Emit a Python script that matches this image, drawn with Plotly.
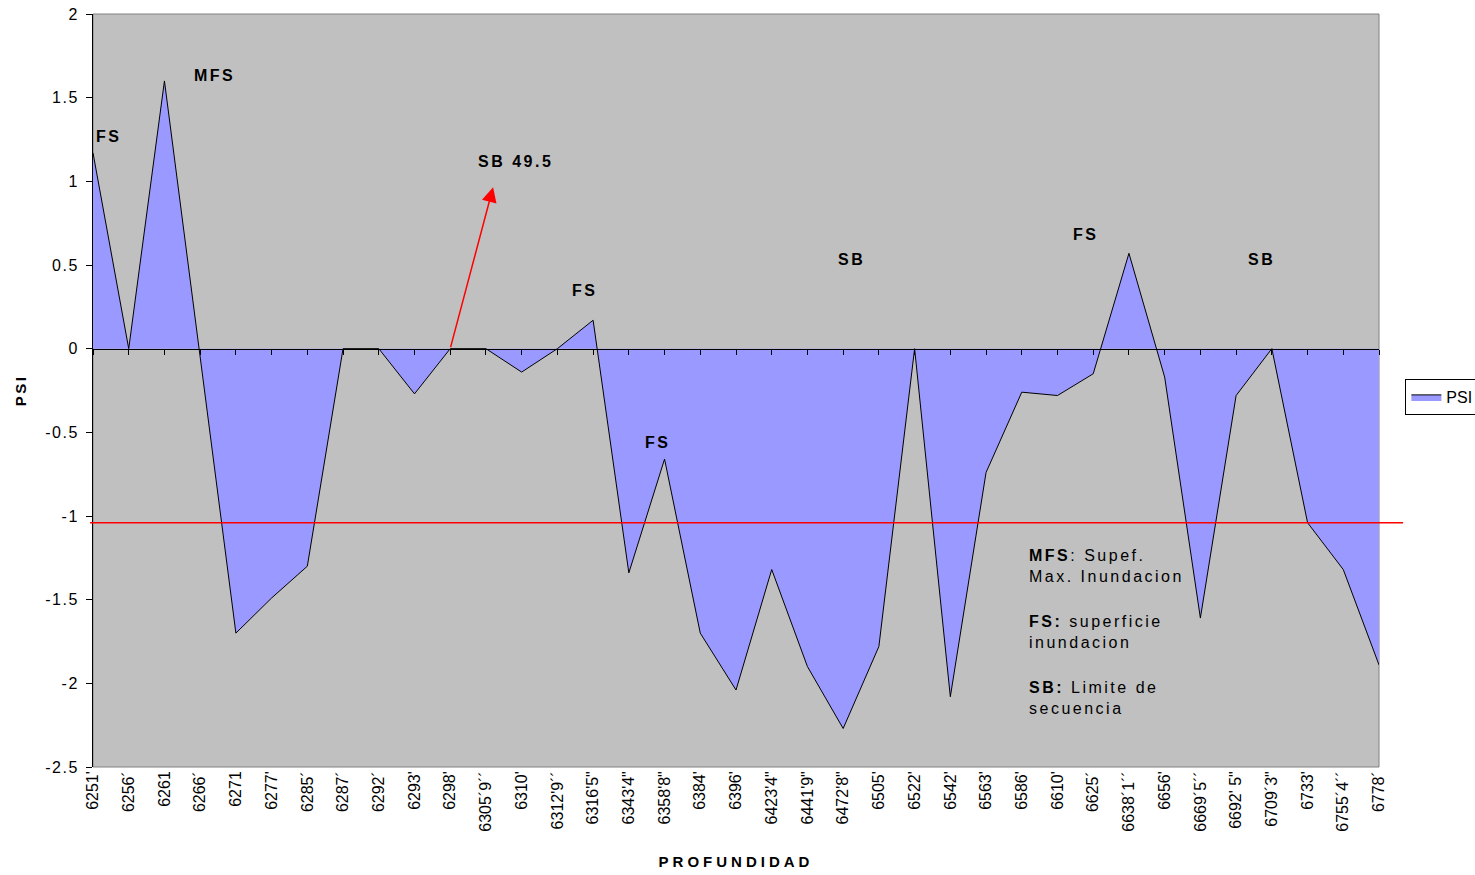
import plotly.graph_objects as go

CATEGORIES = ["6251'", "6256´", "6261", "6266´", "6271", "6277'", "6285´", "6287´",
              "6292´", "6293'", "6298'", "6305´9´´", "6310'", "6312'9´´", "6316'5\"",
              "6343'4\"", "6358'8\"", "6384'", "6396'", "6423'4\"", "6441'9\"",
              "6472'8\"", "6505'", "6522'", "6542'", "6563'", "6586'", "6610'", "6625´",
              "6638´1´´", "6656'", "6669´5´´", "6692' 5\"", "6709´3\"", "6733'",
              "6755´4´´", "6778´"]
PSI = [1.17, 0.0, 1.60, -0.05, -1.70, -1.49, -1.30, 0.0,
       0.0, -0.27, 0.0, 0.0, -0.14, 0.0, 0.17,
       -1.34, -0.66, -1.70, -2.04, -1.32, -1.90,
       -2.27, -1.78, 0.0, -2.08, -0.74, -0.26, -0.28, -0.15,
       0.57, -0.17, -1.61, -0.28, 0.0, -1.04,
       -1.32, -1.89]
Y_TICKS = [2, 1.5, 1, 0.5, 0, -0.5, -1, -1.5, -2, -2.5]
Y_TICK_LABELS = ["2", "1.5", "1", "0.5", "0", "-0.5", "-1", "-1.5", "-2", "-2.5"]
Y_RANGE = [-2.5, 2]
RED_LINE = -1.04

FONT = "Arial, Liberation Sans, sans-serif"
SP = '<span style="letter-spacing:2.5px">{}</span>'
SPT = '<span style="letter-spacing:4px">{}</span>'
SPY = '<span style="letter-spacing:1.5px">{}</span>'

x_idx = list(range(len(CATEGORIES)))

fig = go.Figure()
fig.add_trace(go.Scatter(
    x=x_idx, y=PSI, name="PSI", mode="lines", xaxis="x2", yaxis="y",
    line=dict(color="black", width=1),
    fill="tozeroy", fillcolor="#9999FF",
))

zero_pos = (0 - Y_RANGE[0]) / (Y_RANGE[1] - Y_RANGE[0])

fig.update_layout(
    width=1475, height=875,
    paper_bgcolor="white", plot_bgcolor="#C0C0C0",
    margin=dict(l=93, r=96, t=14, b=108, autoexpand=False),
    font=dict(family=FONT, color="black", size=16),
    showlegend=True,
    legend=dict(x=1.0205, y=0.4914, xanchor="left", yanchor="middle",
                bgcolor="white", bordercolor="black", borderwidth=1,
                font=dict(size=16), itemwidth=30),
    xaxis=dict(range=[0, len(CATEGORIES) - 1], tickmode="array", tickvals=x_idx,
               ticktext=CATEGORIES, tickangle=-90, ticks="", showgrid=False,
               zeroline=False, showline=False, tickfont=dict(size=16),
               title=dict(text="<b>" + SPT.format("PROFUNDIDAD") + "</b>",
                          font=dict(size=15), standoff=25)),
    xaxis2=dict(range=[0, len(CATEGORIES) - 1], overlaying="x", anchor="free",
                position=zero_pos, side="bottom", tickmode="array", tickvals=x_idx,
                showticklabels=False, ticks="outside", ticklen=5, tickcolor="black",
                showline=True, linecolor="black", linewidth=1, showgrid=False,
                zeroline=False, layer="above traces"),
    yaxis=dict(range=Y_RANGE, tickmode="array", tickvals=Y_TICKS,
               ticktext=[SPY.format(t) for t in Y_TICK_LABELS],
               ticks="outside", ticklen=6, tickcolor="black",
               showline=True, linecolor="black", linewidth=1, showgrid=False,
               zeroline=False, tickfont=dict(size=16), ticklabelstandoff=4,
               title=dict(text="<b>" + SP.format("PSI") + "</b>", font=dict(size=15),
                          standoff=14)),
)

fig.add_shape(type="rect", xref="paper", yref="paper", x0=0, x1=1, y0=0, y1=1,
              line=dict(color="#808080", width=1), layer="below")

red_y = (RED_LINE - Y_RANGE[0]) / (Y_RANGE[1] - Y_RANGE[0])
fig.add_shape(type="line", xref="paper", yref="paper", x0=-0.0023, x1=1.0187,
              y0=red_y, y1=red_y, line=dict(color="red", width=1.5))

fig.add_annotation(x=11.2, y=0.965, ax=10, ay=0, axref="x", ayref="y", xref="x", yref="y",
                   text="", showarrow=True, arrowcolor="red", arrowwidth=1.5,
                   arrowhead=2, arrowsize=2, standoff=0)

labels = [
    ("FS", 0.42, 1.265), ("MFS", 3.39, 1.63), ("SB 49.5", 11.84, 1.12),
    ("FS", 13.77, 0.345), ("FS", 15.79, -0.56), ("SB", 21.22, 0.535),
    ("FS", 27.77, 0.68), ("SB", 32.7, 0.535),
]
for t, x, y in labels:
    fig.add_annotation(x=x, y=y, xref="x", yref="y", text="<b>" + SP.format(t) + "</b>",
                       showarrow=False, font=dict(size=16))

notes = [
    ("<b>MFS</b>: Supef.<br>Max. Inundacion", -1.296),
    ("<b>FS:</b> superficie<br>inundacion", -1.696),
    ("<b>SB:</b> Limite de<br>secuencia", -2.085),
]
for t, y in notes:
    fig.add_annotation(x=26.15, y=y, xref="x", yref="y", xanchor="left", yanchor="middle",
                       align="left",
                       text=SP.format(t.replace("<br>", "</span><br><span style=\"letter-spacing:2.5px\">")),
                       showarrow=False, font=dict(size=16))

fig.write_html("out.html", post_script="document.body.style.margin='0';",
               config={"displayModeBar": False})
